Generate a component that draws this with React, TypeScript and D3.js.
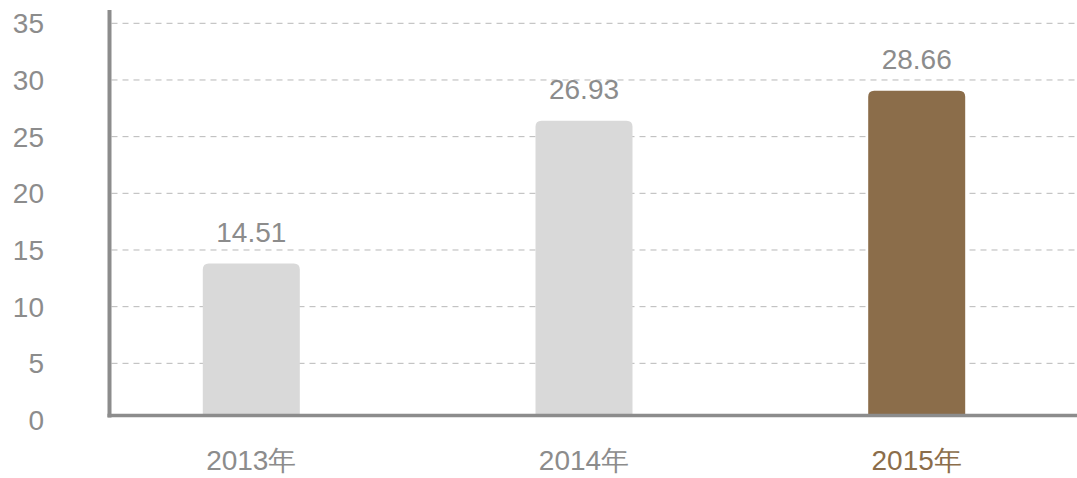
import { useMemo } from 'react';
import * as d3 from 'd3';

const years = ['2013年', '2014年', '2015年'];
const valueLabels = ['14.51', '26.93', '28.66'];
// bar heights as drawn in the picture (they are not quite to scale there)
const barValues = [13.8, 26.4, 29.05];
const yTicks = [0, 5, 10, 15, 20, 25, 30, 35];
const highlight = '2015年';

const WIDTH = 1077;
const HEIGHT = 478;
const GRAY = '#8c8c8c';
const BROWN = '#8b6d4a';
const FONT = '"Liberation Sans", Arial, sans-serif';

export default function App() {
  const yScale = useMemo(() => d3.scaleLinear().domain([0, 35]).range([420, 23.3]), []);
  const xScale = useMemo(() => d3.scalePoint().domain(years).range([251.3, 916.7]), []);

  const barW = 97;
  const baseY = 415.5;
  const axisX = 109.5;
  const r = 6;

  const barPath = (cx: number, top: number) => {
    const x0 = cx - barW / 2;
    const x1 = cx + barW / 2;
    const p = d3.path();
    p.moveTo(x0, baseY);
    p.lineTo(x0, top + r);
    p.quadraticCurveTo(x0, top, x0 + r, top);
    p.lineTo(x1 - r, top);
    p.quadraticCurveTo(x1, top, x1, top + r);
    p.lineTo(x1, baseY);
    p.closePath();
    return p.toString();
  };

  const grid = yTicks.filter((t) => t > 0).map((t) => (
    <line
      key={t}
      x1={axisX + 2}
      x2={WIDTH}
      y1={yScale(t)}
      y2={yScale(t)}
      stroke="#b8b8b8"
      strokeWidth={1}
      strokeDasharray="6 5"
    />
  ));

  const yLabels = yTicks.map((t) => (
    <text key={t} x={44} y={yScale(t) + 10} textAnchor="end" fontSize={28} fill={GRAY}>
      {t}
    </text>
  ));

  const bars = years.map((name, i) => {
    const cx = xScale(name) ?? 0;
    const top = yScale(barValues[i]);
    const isHi = name === highlight;
    return (
      <g key={name}>
        <path d={barPath(cx, top)} fill={isHi ? BROWN : '#d9d9d9'} />
        <text x={cx} y={top - 22} textAnchor="middle" fontSize={28} fill={GRAY}>
          {valueLabels[i]}
        </text>
        <text x={cx} y={470} textAnchor="middle" fontSize={28} fill={isHi ? BROWN : GRAY}>
          {name}
        </text>
      </g>
    );
  });

  return (
    <svg
      width={WIDTH}
      height={HEIGHT}
      style={{ position: 'absolute', left: 0, top: 0, fontFamily: FONT }}
    >
      {grid}
      {bars}
      <line x1={axisX} x2={axisX} y1={10} y2={417.5} stroke={GRAY} strokeWidth={4} />
      <line x1={axisX - 2} x2={WIDTH} y1={baseY} y2={baseY} stroke={GRAY} strokeWidth={3.5} />
      {yLabels}
    </svg>
  );
}
